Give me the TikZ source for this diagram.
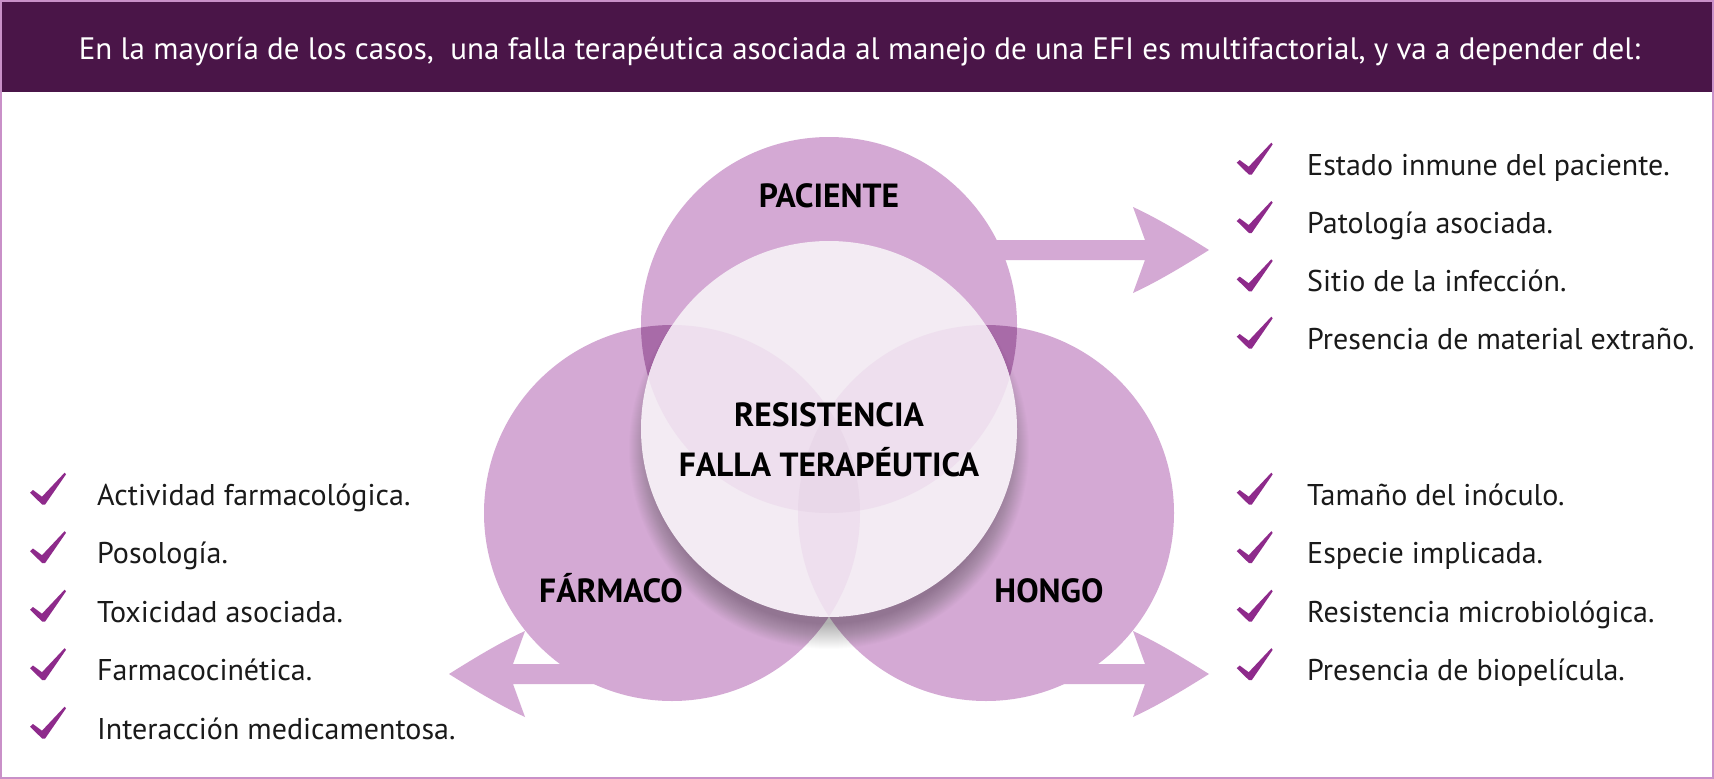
\documentclass[tikz,border=0pt]{standalone}
\usepackage{fontspec}
\setmainfont{PT Sans}
\definecolor{hdr}{HTML}{4A1548}
\definecolor{framec}{HTML}{C990C8}
\definecolor{circ}{HTML}{D4A9D4}
\definecolor{ovl}{HTML}{A86BA8}
\definecolor{inner}{HTML}{F3EBF3}
\definecolor{innerlens}{HTML}{EEDFEE}
\definecolor{innertri}{HTML}{E9D8E9}
\definecolor{chkc}{HTML}{8E2A8B}
\definecolor{txt}{HTML}{1A1A1A}
\tikzset{
  item/.style={anchor=base west, inner sep=0pt, text=txt, font=\fontsize{30}{36}\selectfont},
  lbl/.style={anchor=base, inner sep=0pt, text=black, font=\bfseries\fontsize{33.5}{40}\selectfont},
  hdrtext/.style={anchor=base, inner sep=0pt, text=white, font=\fontsize{31}{36}\selectfont},
  chk/.pic={\fill[chkc] (6.7,22.7) -- (9.7,20) -- (18.7,26.7) -- (41.3,2.7) -- (42.7,4.3) -- (21.7,34.7) -- (19,34.7) -- cycle;},
  bigarrow/.pic={\fill[circ] (-230,-10) -- (-64,-10) -- (-76,-43) .. controls (-50,-31) and (-24,-15) .. (0,0) .. controls (-24,15) and (-50,31) .. (-76,43) -- (-64,10) -- (-230,10) -- cycle;}
}
\begin{document}
\begin{tikzpicture}[x=1pt,y=-1pt]
\useasboundingbox (0,0) rectangle (1714,779);
\fill[white] (0,0) rectangle (1714,779);
% header
\fill[hdr] (0,0) rectangle (1714,92);
\node[hdrtext] (title) at (859.5,59) {En la mayoría de los casos,\ \ una falla terapéutica asociada al manejo de una EFI es multifactorial, y va a depender del:};
% frame
\draw[framec, line width=2pt] (1,1) rectangle (1713,777.5);
% circle centres
\coordinate (cT) at (829,325);
\coordinate (cL) at (672,513);
\coordinate (cR) at (986,513);
\coordinate (cC) at (829,429);
% arrows
\pic at (1209,250) {bigarrow};
\pic at (1209,674) {bigarrow};
\pic[xscale=-1] at (449,674) {bigarrow};
% circles
\fill[circ] (cT) circle[radius=188pt];
\fill[circ] (cL) circle[radius=188pt];
\fill[circ] (cR) circle[radius=188pt];
\begin{scope}
  \clip (cT) circle[radius=188pt];
  \fill[ovl] (cL) circle[radius=188pt];
  \fill[ovl] (cR) circle[radius=188pt];
\end{scope}
\begin{scope}
  \clip (cL) circle[radius=188pt];
  \fill[ovl] (cR) circle[radius=188pt];
\end{scope}
% shadow
\foreach \k in {0,...,25} {
  \fill[black, opacity=0.013] (829,449) circle[radius={175pt+\k pt}];
}
% centre circle
\fill[inner] (cC) circle[radius=188pt];
\begin{scope}
  \clip (cC) circle[radius=188pt];
  \begin{scope}
    \clip (cT) circle[radius=188pt];
    \fill[innerlens] (cL) circle[radius=188pt];
    \fill[innerlens] (cR) circle[radius=188pt];
  \end{scope}
  \begin{scope}
    \clip (cL) circle[radius=188pt];
    \fill[innerlens] (cR) circle[radius=188pt];
    \clip (cR) circle[radius=188pt];
    \fill[innertri] (cT) circle[radius=188pt];
  \end{scope}
\end{scope}
% labels
\node[lbl] (pac) at (829,207) {PACIENTE};
\node[lbl] (far) at (611,602) {FÁRMACO};
\node[lbl] (hon) at (1049,602) {HONGO};
\node[lbl] (res) at (829,426) {RESISTENCIA};
\node[lbl] (fal) at (829,476) {FALLA TERAPÉUTICA};
% right upper list
\foreach \y/\t [count=\i] in {175/Estado inmune del paciente., 233.3/Patología asociada., 291.6/Sitio de la infección., 349/Presencia de material extraño.} {
  \pic at (1230,\y-35) {chk};
  \node[item] (ru\i) at (1307,\y) {\t};
}
% right lower list
\foreach \y/\t [count=\i] in {505/Tamaño del inóculo., 563.5/Especie implicada., 622/Resistencia microbiológica., 680.5/Presencia de biopelícula.} {
  \pic at (1230,\y-35) {chk};
  \node[item] (rl\i) at (1307,\y) {\t};
}
% left list
\foreach \y/\t [count=\i] in {505/Actividad farmacológica., 563.5/Posología., 622/Toxicidad asociada., 680.5/Farmacocinética., 739/Interacción medicamentosa.} {
  \pic at (23.3,\y-35) {chk};
  \node[item] (ll\i) at (97,\y) {\t};
}
\end{tikzpicture}
\end{document}
